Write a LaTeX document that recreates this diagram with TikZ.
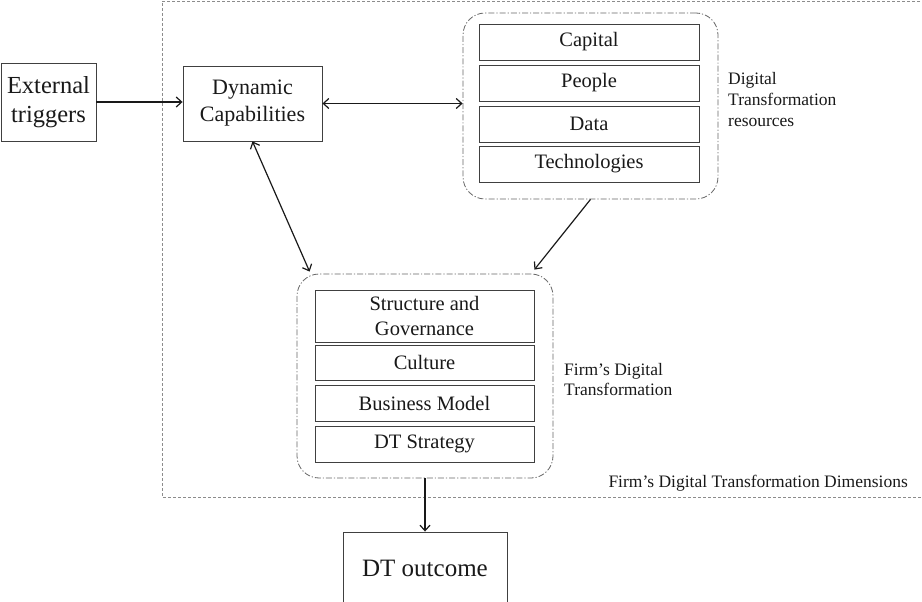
\documentclass[tikz,border=0pt]{standalone}
\usepackage{fontspec}
\setmainfont{Liberation Serif}
\usetikzlibrary{arrows.meta,calc}
\begin{document}
\begin{tikzpicture}[x=1pt,y=-1pt,
  box/.style={draw=black!75,line width=0.9pt,inner sep=0pt,align=center,text=black!90},
  item/.style={box,minimum width=220pt,minimum height=36pt,font=\fontsize{20.5}{23}\selectfont},
  grp/.style={draw=black!60,line width=0.8pt,rounded corners=22pt,dash pattern=on 6pt off 2pt on 1.2pt off 2pt},
  outer/.style={draw=black!45,line width=0.9pt,dash pattern=on 3pt off 2pt},
  lbl/.style={align=left,anchor=west,inner sep=0pt,text=black!90,font=\fontsize{17.5}{21}\selectfont},
  arr/.style={line width=1.2pt,draw=black!90,-{Straight Barb[length=5.5pt,width=10pt]}},
  biarr/.style={line width=1.2pt,draw=black!90,{Straight Barb[length=5.5pt,width=10pt]}-{Straight Barb[length=5.5pt,width=10pt]}}
]
\useasboundingbox (0,0) rectangle (922,602);
% outer dashed frame
\draw[outer] (930,1) -- (162,1) -- (162,497) -- (930,497);
\node[lbl,anchor=east,font=\fontsize{17.5}{20}\selectfont] (dimlbl) at (908,483) {Firm’s Digital Transformation Dimensions};

% external triggers
\node[box,minimum width=95pt,minimum height=78pt,font=\fontsize{24.5}{29}\selectfont] (ext) at (48.5,102) {External\\triggers};
% dynamic capabilities
\node[box,minimum width=139pt,minimum height=75pt,font=\fontsize{22}{27}\selectfont] (dyn) at (252.5,103.5) {Dynamic\\Capabilities};

% resources group
\node[grp,minimum width=255pt,minimum height=186pt] (resgrp) at (590.5,106) {};
\node[item] (cap) at (589,42) {Capital};
\node[item] (peo) at (589,83) {People};
\node[item] (dat) at (589,124) {Data};
\node[item] (tec) at (589,164) {Technologies};
\node[lbl] (reslbl) at (728,100) {Digital\\Transformation\\resources};

% dimensions group
\node[grp,minimum width=256pt,minimum height=204pt] (dimgrp) at (425,376) {};
\node[item,minimum width=219pt,minimum height=52pt,font=\fontsize{20.5}{25}\selectfont] (str) at (424.5,316) {Structure and\\Governance};
\node[item,minimum width=219pt,minimum height=35pt] (cul) at (424.5,362.5) {Culture};
\node[item,minimum width=219pt] (bus) at (424.5,403) {Business Model};
\node[item,minimum width=219pt] (dts) at (424.5,444) {DT Strategy};
\node[lbl,font=\fontsize{17.5}{20}\selectfont] (dimglbl) at (564,380) {Firm’s Digital\\Transformation};

% DT outcome
\node[box,minimum width=164pt,minimum height=72pt,font=\fontsize{25}{30}\selectfont] (out) at (425,568) {DT outcome};

% connectors
\draw[arr] (ext.east) -- (ext.east -| dyn.west);
\draw[biarr] (dyn.east) -- (dyn.east -| resgrp.west);
\draw[biarr] (dyn.south) -- ([xshift=13pt,yshift=2pt]dimgrp.north west);
\draw[arr] (resgrp.south) -- ([xshift=-19pt,yshift=4pt]dimgrp.north east);
\draw[arr] (dimgrp.south) -- (out.north);
\end{tikzpicture}
\end{document}
